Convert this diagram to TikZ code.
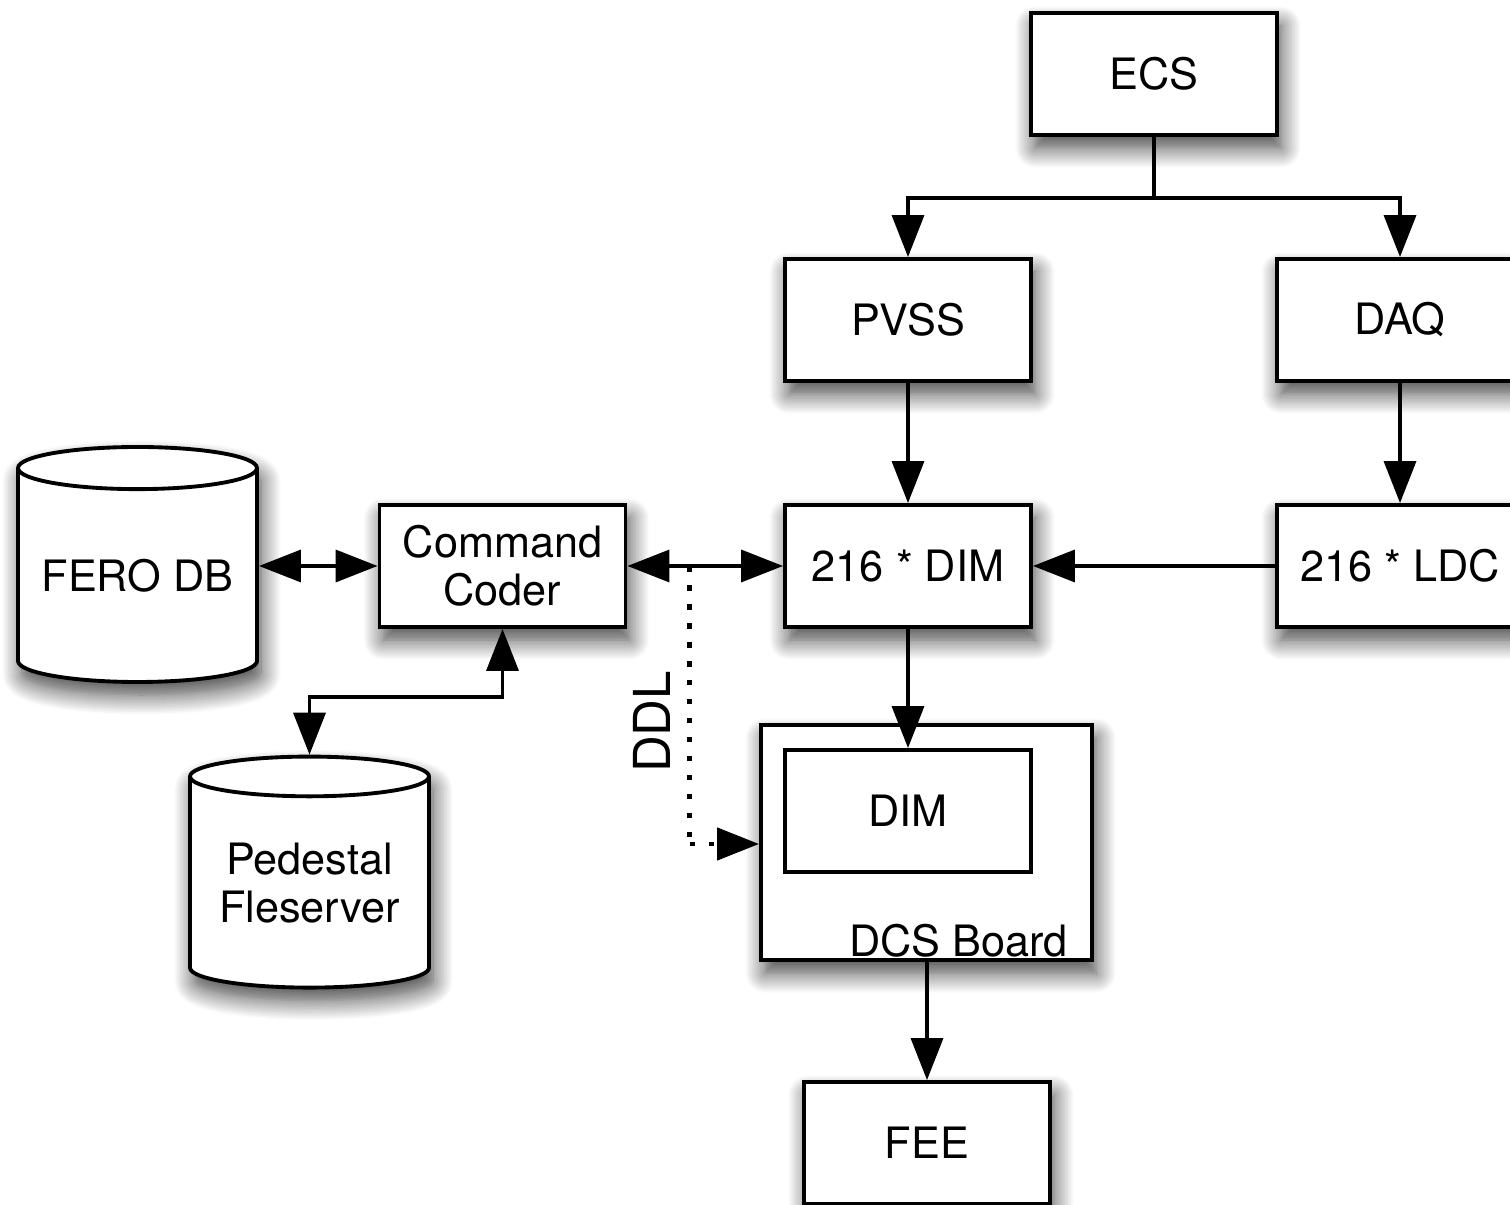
\documentclass[tikz,border=0pt]{standalone}
\usepackage{fontspec}
\setmainfont{TeX Gyre Heros}
\usetikzlibrary{positioning,calc,arrows.meta,shapes.geometric,shadows.blur}
\tikzset{
  shadowed/.style = {blur shadow={shadow xshift=0.4mm, shadow yshift=-1.3mm,
                     shadow blur radius=2mm, shadow blur steps=14, shadow opacity=75}},
  plainblock/.style = {rectangle, draw, line width=1.1pt, fill=white,
                     minimum width=2.46cm, minimum height=1.22cm, align=center, inner sep=0pt},
  block/.style    = {plainblock, shadowed},
  store/.style    = {cylinder, shape border rotate=90, draw, line width=1.1pt, fill=white, shadowed,
                     minimum width=2.39cm, minimum height=2.35cm, aspect=0.22, align=center, inner sep=0pt},
  link/.style     = {line width=1pt},
  ddl/.style      = {line width=1.3pt, dash pattern=on 1.6pt off 3.8pt},
  >={Triangle[length=4.2mm, width=3.2mm]}
}
\begin{document}
\begin{tikzpicture}[font=\fontsize{12.3}{13.6}\selectfont]
  \useasboundingbox (0,0) rectangle (15.10,-12.05);

  % top of the tree
  \node[block] (ecs)  at (11.54,-0.74) {ECS};
  \node[block] (pvss) at (9.08,-3.20)  {PVSS};
  \node[block] (daq)  at (14.00,-3.20) {DAQ};
  \node[block] (dim)  at (9.08,-5.66)  {216 * DIM};
  \node[block] (ldc)  at (14.00,-5.66) {216 * LDC};

  % left side
  \node[block] (coder) at (5.025,-5.66) {Command\\Coder};
  \node[store] (fero)  at (1.375,-5.76) {FERO DB};
  \node[store, minimum height=2.31cm] (ped) at (3.095,-8.83) {Pedestal\\Fleserver};

  % DCS board with its DIM
  \node[block, minimum width=3.31cm, minimum height=2.35cm] (dcs) at (9.265,-8.425) {};
  \node[plainblock] (dcsdim) at (9.08,-8.11) {DIM};
  \node[anchor=south east, inner sep=1pt] (dcslbl) at ($(dcs.south east)+(-0.22,0)$) {DCS Board};

  \node[block] (fee) at (9.27,-11.43) {FEE};

  % connectors
  \draw[link,->] (ecs.south) -- ++(0,-0.61) -| (pvss.north);
  \draw[link,->] (ecs.south) -- ++(0,-0.61) -| (daq.north);
  \draw[link,->] (pvss) -- (dim);
  \draw[link,->] (daq) -- (ldc);
  \draw[link,->] (ldc) -- (dim);
  \draw[link,<->] (coder) -- (dim);
  \draw[link,<->] (fero.east |- coder.west) -- (coder.west);
  \draw[link,<->] (coder.south) -- ++(0,-0.68) -| (ped.north);
  \draw[link,->] (dim.south) -- (dcsdim.north);
  \draw[link,->] (dcs.south -| fee.north) -- (fee.north);

  % DDL line
  \coordinate (ddltop) at ($(coder.east)!0.40!(dim.west)$);
  \coordinate (ddlbot) at ($(ddltop)+(0,-2.78)$);
  \draw[ddl] (ddltop) -- (ddlbot);
  \draw[ddl,->] (ddlbot) -- (ddlbot -| dcs.west);
  \node[rotate=90, font=\fontsize{14.5}{16}\selectfont] (ddllbl) at (6.52,-7.22) {DDL};
\end{tikzpicture}
\end{document}
